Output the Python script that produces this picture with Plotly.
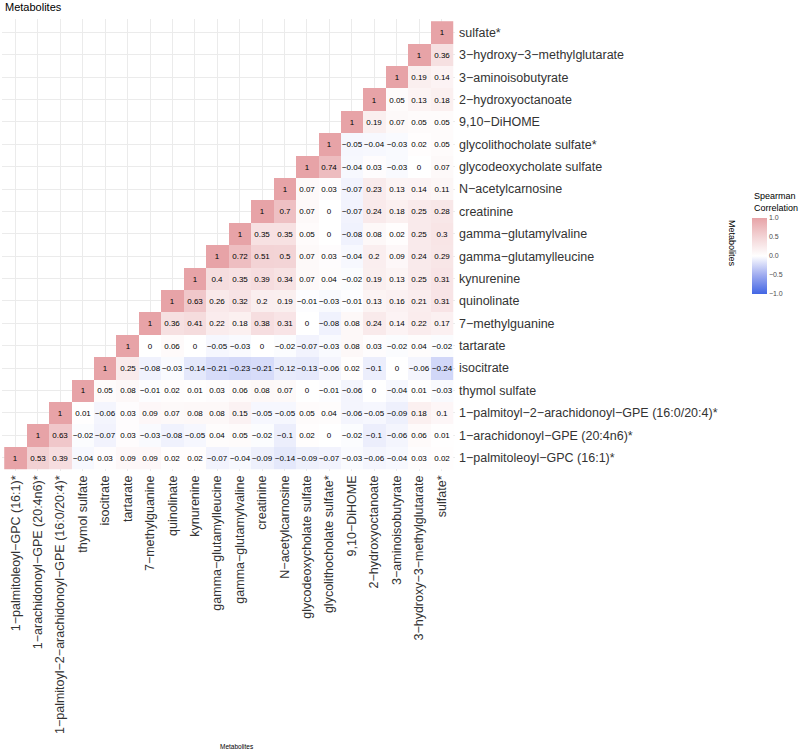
import plotly.graph_objects as go

metabolites = [
    "1\u2212palmitoleoyl\u2212GPC (16:1)*",
    "1\u2212arachidonoyl\u2212GPE (20:4n6)*",
    "1\u2212palmitoyl\u22122\u2212arachidonoyl\u2212GPE (16:0/20:4)*",
    "thymol sulfate",
    "isocitrate",
    "tartarate",
    "7\u2212methylguanine",
    "quinolinate",
    "kynurenine",
    "gamma\u2212glutamylleucine",
    "gamma\u2212glutamylvaline",
    "creatinine",
    "N\u2212acetylcarnosine",
    "glycodeoxycholate sulfate",
    "glycolithocholate sulfate*",
    "9,10\u2212DiHOME",
    "2\u2212hydroxyoctanoate",
    "3\u2212aminoisobutyrate",
    "3\u2212hydroxy\u22123\u2212methylglutarate",
    "sulfate*",
]

# Each row: correlations of the metabolite with itself and all metabolites to its right
row_palmitoleoyl_gpc = [1, 0.53, 0.39, -0.04, 0.03, 0.09, 0.09, 0.02, 0.02, -0.07, -0.04, -0.09, -0.14, -0.09, -0.07, -0.03, -0.06, -0.04, 0.03, 0.02]
row_arachidonoyl_gpe = [1, 0.63, -0.02, -0.07, 0.03, -0.03, -0.08, -0.05, 0.04, 0.05, -0.02, -0.1, 0.02, 0, -0.02, -0.1, -0.06, 0.06, 0.01]
row_palmitoyl_arach_gpe = [1, 0.01, -0.06, 0.03, 0.09, 0.07, 0.08, 0.08, 0.15, -0.05, -0.05, 0.05, 0.04, -0.06, -0.05, -0.09, 0.18, 0.1]
row_thymol_sulfate = [1, 0.05, 0.08, -0.01, 0.02, 0.01, 0.03, 0.06, 0.08, 0.07, 0, -0.01, -0.06, 0, -0.04, 0.01, -0.03]
row_isocitrate = [1, 0.25, -0.08, -0.03, -0.14, -0.21, -0.23, -0.21, -0.12, -0.13, -0.06, 0.02, -0.1, 0, -0.06, -0.24]
row_tartarate = [1, 0, 0.06, 0, -0.05, -0.03, 0, -0.02, -0.07, -0.03, 0.08, 0.03, -0.02, 0.04, -0.02]
row_methylguanine = [1, 0.36, 0.41, 0.22, 0.18, 0.38, 0.31, 0, -0.08, 0.08, 0.24, 0.14, 0.22, 0.17]
row_quinolinate = [1, 0.63, 0.26, 0.32, 0.2, 0.19, -0.01, -0.03, -0.01, 0.13, 0.16, 0.21, 0.31]
row_kynurenine = [1, 0.4, 0.35, 0.39, 0.34, 0.07, 0.04, -0.02, 0.19, 0.13, 0.25, 0.31]
row_gg_leucine = [1, 0.72, 0.51, 0.5, 0.07, 0.03, -0.04, 0.2, 0.09, 0.24, 0.29]
row_gg_valine = [1, 0.35, 0.35, 0.05, 0, -0.08, 0.08, 0.02, 0.25, 0.3]
row_creatinine = [1, 0.7, 0.07, 0, -0.07, 0.24, 0.18, 0.25, 0.28]
row_acetylcarnosine = [1, 0.07, 0.03, -0.07, 0.23, 0.13, 0.14, 0.11]
row_glycodeoxycholate = [1, 0.74, -0.04, 0.03, -0.03, 0, 0.07]
row_glycolithocholate = [1, -0.05, -0.04, -0.03, 0.02, 0.05]
row_dihome = [1, 0.19, 0.07, 0.05, 0.05]
row_hydroxyoctanoate = [1, 0.05, 0.13, 0.18]
row_aminoisobutyrate = [1, 0.19, 0.14]
row_hmg = [1, 0.36]
row_sulfate = [1]

rows = [row_palmitoleoyl_gpc, row_arachidonoyl_gpe, row_palmitoyl_arach_gpe, row_thymol_sulfate,
        row_isocitrate, row_tartarate, row_methylguanine, row_quinolinate, row_kynurenine,
        row_gg_leucine, row_gg_valine, row_creatinine, row_acetylcarnosine, row_glycodeoxycholate,
        row_glycolithocholate, row_dihome, row_hydroxyoctanoate, row_aminoisobutyrate, row_hmg, row_sulfate]

colorbar_ticks = [-1, -0.5, 0, 0.5, 1]


def fmt(v):
    s = ("%.2f" % abs(v)).rstrip("0").rstrip(".")
    if s == "":
        s = "0"
    if v < 0 and s != "0":
        s = "\u2212" + s
    return s


z = []
text = []
for i, r in enumerate(rows):
    z.append([None] * i + list(r))
    text.append([""] * i + [fmt(v) for v in r])

FONT = "Liberation Sans, Arial, Helvetica, sans-serif"

colorscale = [
    [0.0, "rgb(66,102,228)"],
    [0.25, "rgb(160,172,240)"],
    [0.5, "rgb(255,255,255)"],
    [0.75, "rgb(243,212,214)"],
    [1.0, "rgb(231,163,167)"],
]

# panel geometry (pixels)
W, H = 800, 755
L, R, T, B = 2, 345, 19, 284
PW = W - L - R
PH = H - T - B


def px_x(px):
    return (px - L) / PW


def px_y(py):
    return (H - B - py) / PH


fig = go.Figure(go.Heatmap(
    x=metabolites,
    y=metabolites,
    z=z,
    text=text,
    texttemplate="%{text}",
    textfont=dict(size=8, color="black", family=FONT),
    zmin=-1, zmax=1,
    colorscale=colorscale,
    hoverongaps=False,
    colorbar=dict(
        x=px_x(752), xanchor="left", xref="paper",
        y=px_y(256), yanchor="middle",
        lenmode="pixels", len=76,
        thickness=15,
        outlinewidth=0,
        ticks="",
        tickvals=colorbar_ticks,
        ticktext=["\u2212" + "%.1f" % abs(t) if t < 0 else "%.1f" % t for t in colorbar_ticks],
        tickfont=dict(size=7, color="#4D4D4D", family=FONT),
        ypad=0, xpad=0,
    ),
))

fig.update_layout(
    width=W, height=H, autosize=False,
    margin=dict(l=L, r=R, t=T, b=B, autoexpand=False),
    paper_bgcolor="white", plot_bgcolor="white",
    font=dict(family=FONT),
    xaxis=dict(
        categoryorder="array", categoryarray=metabolites,
        range=[-0.6, 19.6], tickangle=-90, ticks="",
        tickfont=dict(size=12.5, color="#333333", family=FONT),
        showgrid=True, gridcolor="#EBEBEB", gridwidth=1,
        zeroline=False, showline=False, automargin=False,
        ticklabelstandoff=1,
    ),
    yaxis=dict(
        categoryorder="array", categoryarray=metabolites,
        range=[-0.6, 19.6], side="right", ticks="",
        tickfont=dict(size=12.5, color="#333333", family=FONT),
        showgrid=True, gridcolor="#EBEBEB", gridwidth=1,
        zeroline=False, showline=False, automargin=False,
        ticklabelstandoff=3,
    ),
    annotations=[
        dict(text="Metabolites", xref="paper", yref="paper", x=px_x(3), y=px_y(7),
             xanchor="left", yanchor="middle", showarrow=False,
             font=dict(size=11, color="black", family=FONT)),
        dict(text="Metabolites", xref="paper", yref="paper", x=px_x(237), y=px_y(746),
             xanchor="center", yanchor="middle", showarrow=False,
             font=dict(size=6.5, color="black", family=FONT)),
        dict(text="Metabolites", xref="paper", yref="paper", x=px_x(732), y=px_y(243),
             xanchor="center", yanchor="middle", textangle=90, showarrow=False,
             font=dict(size=9, color="black", family=FONT)),
        dict(text="Spearman<br>Correlation", xref="paper", yref="paper",
             x=px_x(752), y=px_y(215), xanchor="left", yanchor="bottom",
             align="left", showarrow=False,
             font=dict(size=9, color="black", family=FONT)),
    ],
)

fig.write_html(
    "out.html",
    config={"displayModeBar": False},
    post_script="document.body.style.margin='0';document.body.style.padding='0';",
)
